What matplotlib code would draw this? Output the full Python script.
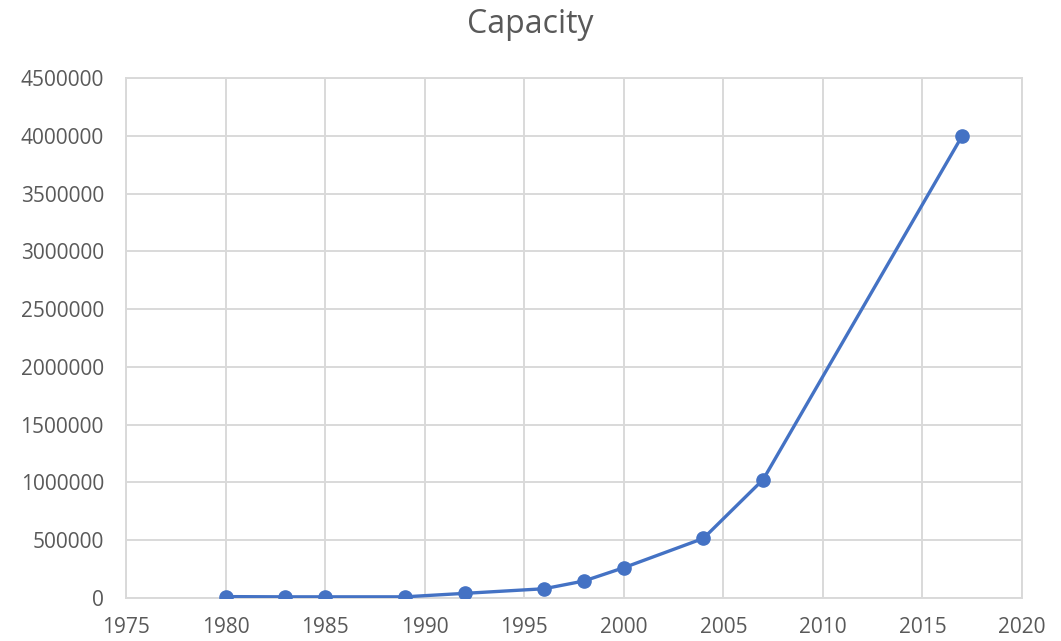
import matplotlib
matplotlib.use('Agg')
import matplotlib.pyplot as plt
from matplotlib.ticker import FuncFormatter

plt.rcParams['font.family'] = ['Open Sans', 'DejaVu Sans']

# 年份与容量
years = [1980, 1983, 1985, 1989, 1992, 1996, 1998, 2000, 2004, 2007, 2017]
capacity = [12000, 10000, 10000, 10000, 40000, 80000, 147000, 262000, 516000, 1025000, 4000000]

x_ticks = list(range(1975, 2021, 5))
y_ticks = list(range(0, 4500001, 500000))

grid_color = '#d9d9d9'
text_color = '#595959'
line_color = '#4472c4'

fig = plt.figure(figsize=(10.61, 6.41), dpi=100)
ax = fig.add_axes([0.1188, 0.0671, 0.8444, 0.8112])

ax.plot(years, capacity, color=line_color, linewidth=2.4,
        marker='o', markersize=9.5, zorder=3)

ax.set_xlim(1975, 2020)
ax.set_ylim(0, 4500000)
ax.set_xticks(x_ticks)
ax.set_yticks(y_ticks)
ax.yaxis.set_major_formatter(FuncFormatter(lambda v, p: f"{int(v)}"))

ax.grid(True, color=grid_color, linewidth=1.4)
ax.set_axisbelow(True)
for s in ax.spines.values():
    s.set_color(grid_color)
    s.set_linewidth(1.4)

ax.tick_params(length=0, labelsize=15, colors=text_color)
ax.tick_params(axis='y', pad=16)
ax.tick_params(axis='x', pad=14)

fig.text(0.5, 0.962, 'Capacity', ha='center', va='center',
         fontsize=23, color=text_color)

plt.savefig('out.png', dpi=100)
